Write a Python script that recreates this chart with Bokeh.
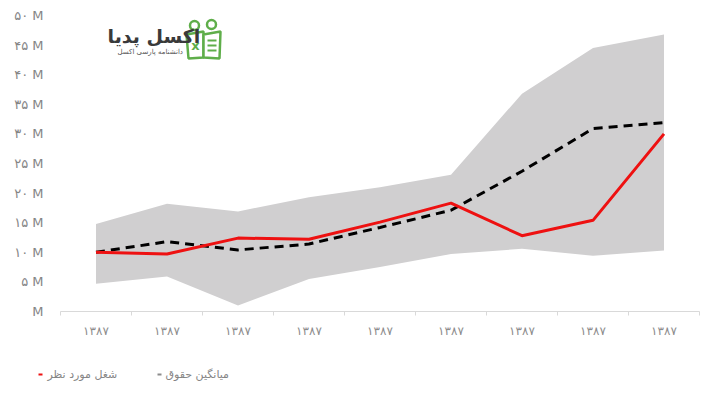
from bokeh.plotting import figure
from bokeh.models import FixedTicker, Label, ColumnDataSource, Range1d
from bokeh.core.properties import value
from bokeh.embed import file_html
from bokeh.resources import INLINE

# ---------------- data (millions) ----------------
x_labels = ["۱۳۸۷"] * 9
x_pos = [0.5, 1.5, 2.5, 3.5, 4.5, 5.5, 6.5, 7.5, 8.5]
band_upper = [14.8, 18.2, 16.9, 19.3, 21.0, 23.1, 36.8, 44.5, 46.8]
band_lower = [4.7, 5.9, 1.0, 5.5, 7.5, 9.7, 10.6, 9.4, 10.3]
target_job = [10.0, 9.7, 12.4, 12.2, 15.1, 18.3, 12.8, 15.4, 30.0]
avg_salary = [10.0, 11.8, 10.4, 11.4, 14.2, 17.1, 23.7, 30.9, 31.9]
y_ticks = [0, 5, 10, 15, 20, 25, 30, 35, 40, 45, 50]
y_tick_labels = ["M", "۵ M", "۱۰ M", "۱۵ M", "۲۰ M", "۲۵ M", "۳۰ M", "۳۵ M", "۴۰ M", "۴۵ M", "۵۰ M"]
legend_labels = ["شغل مورد نظر", "میانگین حقوق"]
legend_colors = ["#ee1111", "#8c8c8c"]
logo_title = "اکسل پدیا"
logo_sub = "دانشنامه پارسی اکسل"

FONT = "DejaVu Sans"
GREY_TXT = "#858585"

# pixel -> data helpers (plot area: x 60..699 px for 0..9, y 311..15 px for 0..50)
def px_x(px):
    return (px - 60) / 71.0

def px_y(py):
    return (311 - py) / 5.92

W, H = 705, 397
p = figure(width=W, height=H, output_backend="svg", toolbar_location=None,
           x_range=Range1d(px_x(0), px_x(W)), y_range=Range1d(px_y(H), px_y(0)),
           min_border=0, min_border_left=0, min_border_right=0,
           min_border_top=0, min_border_bottom=0)
p.outline_line_color = None
p.xgrid.visible = False
p.ygrid.visible = False
p.background_fill_color = "white"

# band + lines
src = ColumnDataSource(dict(x=x_pos, lo=band_lower, hi=band_upper, t=target_job, a=avg_salary))
p.varea(x="x", y1="lo", y2="hi", source=src, fill_color="#d0cfd0", fill_alpha=1.0)
p.line(x="x", y="a", source=src, line_color="black", line_width=3, line_dash="9 6")
p.line(x="x", y="t", source=src, line_color="#ee1111", line_width=3)

# axes drawn at fixed locations inside the canvas
yax = p.yaxis[0]
yax.fixed_location = 0
yax.bounds = (0, 50)
yax.ticker = FixedTicker(ticks=y_ticks)
yax.major_label_overrides = {t: l for t, l in zip(y_ticks, y_tick_labels)}
yax.axis_line_color = None
yax.major_tick_line_color = None
yax.minor_tick_line_color = None
yax.major_label_standoff = 11
yax.major_label_text_font = FONT
yax.major_label_text_font_size = "13px"
yax.major_label_text_color = GREY_TXT

xax = p.xaxis[0]
xax.fixed_location = 0
xax.bounds = (0, 9)
xax.ticker = FixedTicker(ticks=x_pos, minor_ticks=list(range(10)))
xax.major_label_overrides = {t: l for t, l in zip(x_pos, x_labels)}
xax.axis_line_color = "#d9d9d9"
xax.major_tick_line_color = None
xax.minor_tick_line_color = "#d9d9d9"
xax.minor_tick_in = 0
xax.minor_tick_out = 4
xax.major_label_standoff = 6
xax.major_label_text_font = FONT
xax.major_label_text_font_size = "12px"
xax.major_label_text_color = "#8c8c8c"

# logo (decoration)
GREEN = "#5fae4a"
p.add_layout(Label(x=px_x(107), y=px_y(35), text=logo_title, text_align="left", text_baseline="middle",
                   text_font=FONT, text_font_size="19px", text_font_style="bold", text_color="#3a3a3a"))
p.add_layout(Label(x=px_x(117), y=px_y(51), text=logo_sub, text_align="left", text_baseline="middle",
                   text_font=FONT, text_font_size="7px", text_color="#555555"))
p.patch(x=[px_x(v) for v in [186, 203, 203, 188]], y=[px_y(v) for v in [34, 31, 57, 58]],
        fill_color="white", line_color=GREEN, line_width=2.5)
p.patch(x=[px_x(v) for v in [203, 220, 219, 203]], y=[px_y(v) for v in [34, 31, 58, 57]],
        fill_color="white", line_color=GREEN, line_width=2.5)
p.scatter(x=[px_x(194), px_x(211)], y=[px_y(25), px_y(24)], size=9, marker="circle",
          fill_color="white", line_color=GREEN, line_width=2.5)
p.text(x=[px_x(195)], y=[px_y(45)], text=["x"], text_align="center", text_baseline="middle",
       text_font=value(FONT), text_font_size="13px", text_font_style="bold", text_color=GREEN)
p.segment(x0=[px_x(v) for v in [207, 207, 207]], y0=[px_y(v) for v in [40, 45, 50]],
          x1=[px_x(v) for v in [216, 216, 216]], y1=[px_y(v) for v in [40, 45, 50]],
          line_color=GREEN, line_width=2)

# legend (below the axis)
marker_px = [38, 157]
text_px = [47, 165]
leg_y = px_y(374)
p.segment(x0=[px_x(m) for m in marker_px], y0=[leg_y, leg_y],
          x1=[px_x(m + 4) for m in marker_px], y1=[leg_y, leg_y],
          line_color=legend_colors, line_width=2)
p.text(x=[px_x(t) for t in text_px], y=[leg_y, leg_y], text=legend_labels,
       text_align="left", text_baseline="middle",
       text_font=value(FONT), text_font_size="11px", text_color=GREY_TXT)

open("out.html", "w").write(file_html(p, INLINE))
